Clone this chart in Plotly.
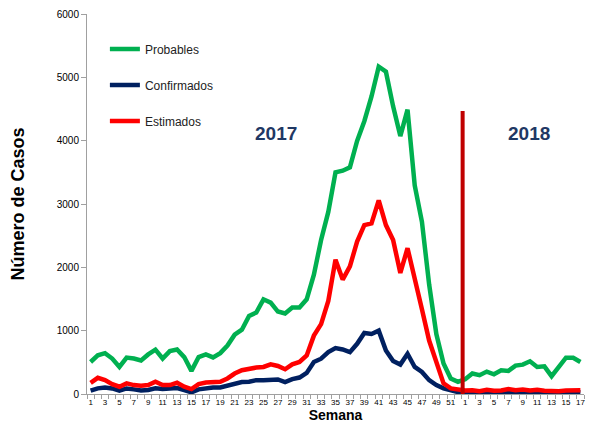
import plotly.graph_objects as go

semanas_2017 = [str(w) for w in range(1, 53)]
semanas_2018 = [str(w) for w in range(1, 18)]
semanas = semanas_2017 + semanas_2018

probables = [505, 610, 645, 560, 427, 575, 560, 530, 625, 700,
             560, 677, 703, 583, 365, 583, 625, 578, 645, 765,
             937, 1015, 1234, 1286, 1495, 1443, 1302, 1271, 1365, 1365,
             1495, 1885, 2432, 2875, 3500, 3526, 3578, 3995, 4307, 4698,
             5167, 5089, 4542, 4073, 4490, 3292, 2719, 1730, 948, 480,
             245, 193,
             234, 323, 297, 354, 312, 375, 365, 448, 464, 516,
             427, 437, 281, 427, 573, 573, 505]

confirmados = [52, 89, 104, 88, 52, 88, 73, 57, 63, 89,
               78, 78, 94, 63, 26, 73, 94, 104, 104, 135,
               151, 188, 193, 219, 219, 219, 229, 188, 234, 260,
               333, 505, 557, 661, 724, 703, 661, 792, 964, 948,
               1000, 688, 521, 464, 635, 427, 349, 219, 141, 89,
               52, 30,
               25, 20, 22, 18, 25, 20, 30, 25, 22, 28,
               25, 20, 22, 20, 25, 30, 28]

estimados = [177, 255, 219, 156, 115, 167, 141, 130, 141, 193,
             141, 141, 177, 115, 78, 156, 182, 182, 193, 245,
             323, 375, 401, 417, 427, 469, 443, 391, 469, 505,
             609, 922, 1104, 1469, 2120, 1807, 2016, 2406, 2667, 2693,
             3057, 2667, 2432, 1911, 2302, 1781, 1339, 844, 480, 167,
             89, 73,
             55, 60, 45, 65, 50, 55, 80, 60, 70, 55,
             65, 50, 45, 45, 55, 65, 60]

anios = ["2017", "2018"]
anio_pos = [25.7, 60.8]
anio_y = [4110, 4110]
divisor_x = 51.65
divisor_top = 4470

x = list(range(len(semanas)))
tick_idx = x[::2]
tick_txt = [semanas[i] for i in tick_idx]

series = [
    ("Probables", probables, "#00B050"),
    ("Confirmados", confirmados, "#002060"),
    ("Estimados", estimados, "#FF0000"),
]

FONT = "Liberation Sans Narrow, Liberation Sans, Arial"

fig = go.Figure()
for i, (name, vals, col) in enumerate(series):
    fig.add_trace(go.Scatter(
        x=x, y=vals, mode="lines", name=name, legendgroup=f"g{i}",
        line=dict(color=col, width=4.5),
    ))

fig.add_shape(type="line", x0=divisor_x, x1=divisor_x, y0=0, y1=divisor_top,
              xref="x", yref="y", line=dict(color="#C00000", width=4))

for txt, px, py in zip(anios, anio_pos, anio_y):
    fig.add_annotation(x=px, y=py, text=f"<b>{txt}</b>", showarrow=False,
                       font=dict(family=FONT, size=19, color="#1F3864"))

fig.update_layout(
    width=577, height=415,
    margin=dict(l=79, r=1, t=6, b=29),
    paper_bgcolor="white", plot_bgcolor="white",
    font=dict(family=FONT, color="#000000"),
    showlegend=True,
    legend=dict(x=0.036, y=0.946, xanchor="left", yanchor="top",
                traceorder="grouped", tracegroupgap=17,
                font=dict(size=12, family=FONT, color="#222222"),
                bgcolor="rgba(0,0,0,0)"),
)

fig.update_xaxes(
    automargin=False, ticklabeloverflow="allow",
    range=[-0.5, len(semanas) - 0.5],
    tickmode="array", tickvals=tick_idx, ticktext=tick_txt,
    ticks="", tickfont=dict(size=8),
    showline=True, linecolor="#A0A0A0", linewidth=1,
    showgrid=False, zeroline=False,
    minor=dict(tickmode="array", tickvals=[i - 0.5 for i in range(len(semanas) + 1)],
               ticks="outside", ticklen=4, tickcolor="#A0A0A0", showgrid=False),
    title=dict(text="<b>Semana</b>", font=dict(family="Liberation Sans, Arial", size=14), standoff=8),
)
fig.update_yaxes(
    automargin=False, ticklabeloverflow="allow",
    range=[0, 6000], dtick=1000,
    ticks="outside", ticklen=5, tickcolor="#A0A0A0", tickfont=dict(size=10),
    showline=True, linecolor="#A0A0A0", linewidth=1,
    showgrid=False, zeroline=False,
    title=dict(text="<b>Número de Casos</b>", font=dict(family="Liberation Sans, Arial", size=18), standoff=28),
)

fig.write_html("out.html")
